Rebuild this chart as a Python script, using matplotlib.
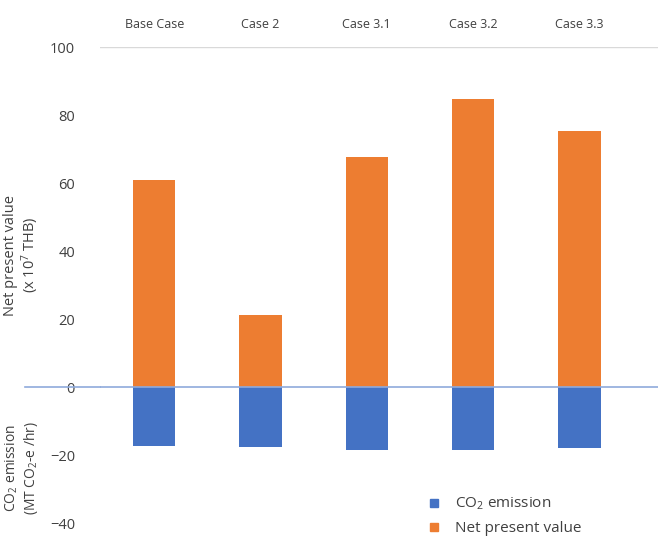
import matplotlib
matplotlib.use('Agg')
from matplotlib import pyplot as plt
from matplotlib.lines import Line2D

# data
cases = ['Base Case', 'Case 2', 'Case 3.1', 'Case 3.2', 'Case 3.3']
npv = [61.0, 21.3, 67.7, 84.8, 75.4]
co2 = [-17.4, -17.6, -18.5, -18.5, -17.9]
yticks = [100, 80, 60, 40, 20, 0, -20, -40]

blue = '#4472C4'
orange = '#ED7D31'
txt = '#404040'

plt.rcParams['font.family'] = ['Open Sans', 'DejaVu Sans']
plt.rcParams['mathtext.default'] = 'regular'

fig = plt.figure(figsize=(6.58, 5.47), dpi=100)
ax = fig.add_axes([100 / 658, 0, 558 / 658, 500 / 547])

x = list(range(len(cases)))
ax.bar(x, npv, width=0.4, color=orange, zorder=2)
ax.bar(x, co2, width=0.4, color=blue, zorder=2)

ax.set_xlim(-0.51, 4.74)
ax.set_ylim(-47, 100)
ax.axhline(100, color='#D9D9D9', lw=1, zorder=1)
ax.axhline(0, color='#8FAADC', lw=1.2, zorder=3)
# zero line continues left of the axes
fig.add_artist(Line2D([25 / 658, 100 / 658], [1 - 387 / 547] * 2,
                      color='#8FAADC', lw=1.2))

for s in ax.spines.values():
    s.set_visible(False)
ax.set_xticks([])
ax.set_yticks(yticks)
ax.tick_params(axis='y', length=0, pad=18, labelsize=10.5, labelcolor=txt)
for lbl in ax.get_yticklabels():
    lbl.set_bbox(dict(facecolor='white', edgecolor='none', pad=1))

for i, c in enumerate(cases):
    ax.text(i, 1.046, c, transform=ax.get_xaxis_transform(),
            ha='center', va='center', fontsize=9, color=txt)

fig.text(22 / 658, 1 - 255 / 547, 'Net present value\n(x 10$^7$ THB)',
         rotation=90, ha='center', va='center', fontsize=10.5, color=txt,
         linespacing=1.15)
fig.text(22 / 658, 1 - 468 / 547, 'CO$_2$ emission\n(MT CO$_2$-e /hr)',
         rotation=90, ha='center', va='center', fontsize=10, color=txt,
         linespacing=1.15)

handles = [Line2D([], [], marker='s', ls='none', color=blue, markersize=6),
           Line2D([], [], marker='s', ls='none', color=orange, markersize=6)]
fig.legend(handles, ['CO$_2$ emission', 'Net present value'],
           loc='center left', bbox_to_anchor=(405 / 658, 1 - 516 / 547),
           frameon=False, fontsize=11, handletextpad=0.4, labelspacing=0.55,
           labelcolor=txt)

fig.savefig('out.png', dpi=100)
